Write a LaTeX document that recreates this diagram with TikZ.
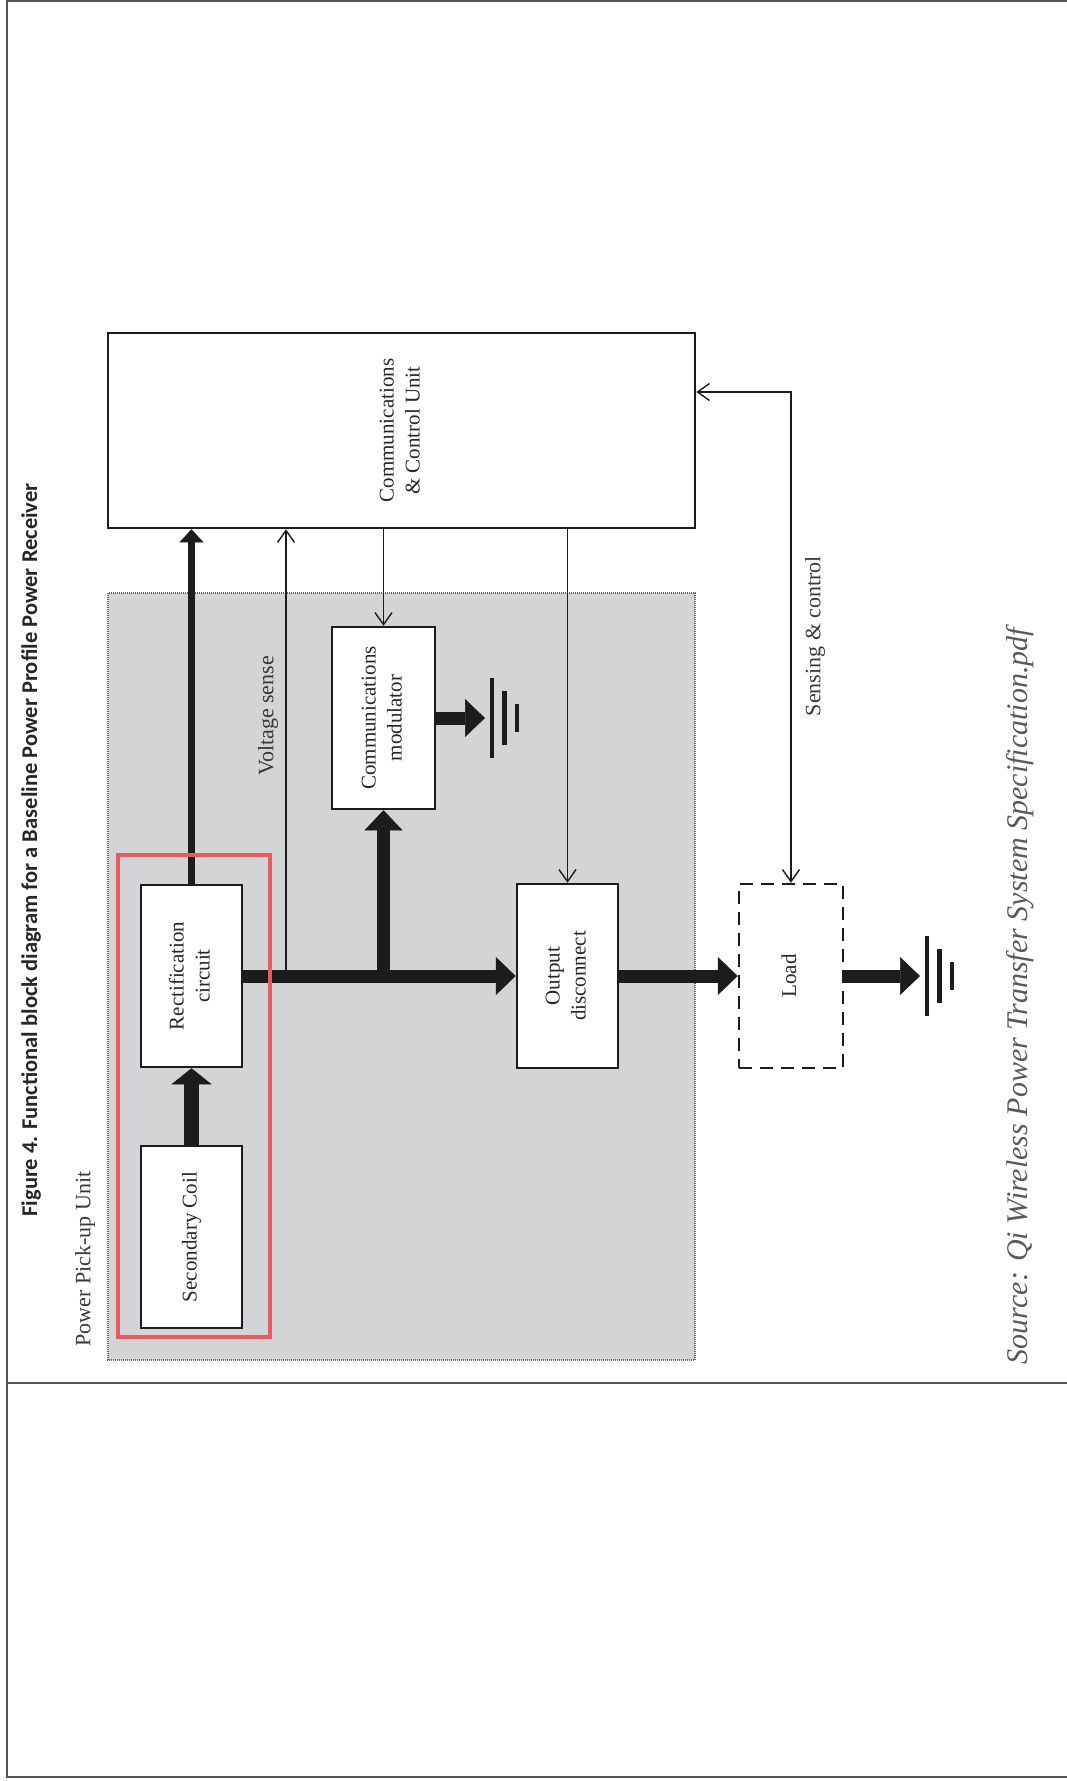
\documentclass[tikz,border=0pt]{standalone}
\usepackage{fontspec}
\setmainfont{Liberation Serif}
\newfontfamily\titlefont{Carlito}
\usepackage{graphicx}
\usetikzlibrary{arrows.meta,calc}
\definecolor{unitgray}{RGB}{211,212,214}
\definecolor{markred}{RGB}{236,90,96}
\definecolor{ink}{RGB}{28,28,28}
\definecolor{rulegray}{RGB}{85,85,85}
\newcommand{\vtext}[1]{\rotatebox{90}{\begin{tabular}{@{}c@{}}#1\end{tabular}}}
\newcommand{\earth}[1]{%
  \draw[earthline] ([shift={(7,-40)}]#1) -- ++(0,80);
  \draw[earthline] ([shift={(19.5,-27)}]#1) -- ++(0,54);
  \draw[earthline] ([shift={(32,-14)}]#1) -- ++(0,28);}
\tikzset{
  sigtip/.tip={Straight Barb[length=12pt,width=17pt]},
  pwrtip/.tip={Triangle[length=20pt,width=38pt,line width=0.5pt]},
  block/.style={draw=ink,line width=2.5pt,fill=white,inner sep=0pt,
    minimum width=101pt,minimum height=182pt,text=black!85},
  sig/.style={ink,line width=1.4pt,-sigtip},
  pwr/.style={ink,line width=13pt,-pwrtip},
  earthline/.style={ink,line width=4.5pt},
  note/.style={rotate=90,text=black!78,font=\fontsize{22}{26}\selectfont},
}

\begin{document}
\begin{tikzpicture}[x=1pt,y=-1pt,font=\fontsize{21}{26}\selectfont]
  \useasboundingbox (0,0) rectangle (1067,1781);
  \draw[rulegray,line width=2.5pt] (1067,1.2) -| (7,1777) -- (1067,1777);
  \draw[rulegray,line width=2.5pt] (7,1383) -- (1067,1383);
  \node[rotate=90,anchor=west,text=black!85,
        font=\titlefont\bfseries\fontsize{22.5}{27}\selectfont] (title) at (31,1220)
        {Figure 4. Functional block diagram for a Baseline Power Profile Power Receiver};

  \draw[black!60,line width=1.5pt,dash pattern=on 1pt off 1pt,fill=unitgray] (108,593) rectangle (695,1360);
  \node[note,anchor=west] (pputxt) at (85,1350) {Power Pick-up Unit};

  \node[block,minimum width=587pt,minimum height=195pt] (ccu) at (401.5,430.5) {\vtext{Communications\\\& Control Unit}};
  \node[block] (rect) at (191.5,976) {\vtext{Rectification\\circuit}};
  \node[block] (coil) at (191.5,1237) {\vtext{Secondary Coil}};
  \node[block,minimum width=103pt] (cmod) at (383.5,718) {\vtext{Communications\\modulator}};
  \node[block,minimum height=184pt] (odisc) at (567.5,976) {\vtext{Output\\disconnect}};
  \node[block,minimum width=104pt,minimum height=184pt,dash pattern=on 13pt off 8pt] (load) at (791,976) {\vtext{Load}};

  \coordinate (vtap) at (286,976);
  \coordinate (ctap) at (383.5,976);
  \coordinate (bend) at (791,392);
  \coordinate (g1) at (485,718);
  \coordinate (g2) at (920,976);

  \draw[sig] (vtap) -- (vtap |- ccu.south);
  \draw[sig] (ccu.south -| cmod.north) -- (cmod.north);
  \draw[sig] (ccu.south -| odisc.north) -- (odisc.north);
  \draw[sig,sigtip-sigtip] (ccu.east |- bend) -- (bend) -- (load.north);

  \draw[pwr,line width=7.5pt,-{Triangle[length=13pt,width=24pt,line width=0.5pt]}] (rect.north) -- (rect.north |- ccu.south);
  \draw[pwr,line width=15pt,-{Triangle[length=16pt,width=40pt,line width=0.5pt]}] (coil.north) -- (rect.south);
  \draw[pwr] (rect.east) -- (odisc.west);
  \draw[pwr] (ctap) -- (cmod.south);
  \draw[pwr] (odisc.east) -- (load.west);
  \draw[pwr] (cmod.east) -- (g1);
  \draw[pwr] (load.east) -- (g2);
  \earth{g1}
  \earth{g2}

  \draw[markred,line width=4.5pt] (118,855) rectangle (270,1337);

  \node[note] (vsense) at (268,716) {Voltage sense};
  \node[note] (sensing) at (815,636) {Sensing \& control};
  \node[rotate=90,text=black!65,font=\itshape\fontsize{30}{36}\selectfont] (source) at (1020,996)
        {Source: Qi Wireless Power Transfer System Specification.pdf};
\end{tikzpicture}
\end{document}
